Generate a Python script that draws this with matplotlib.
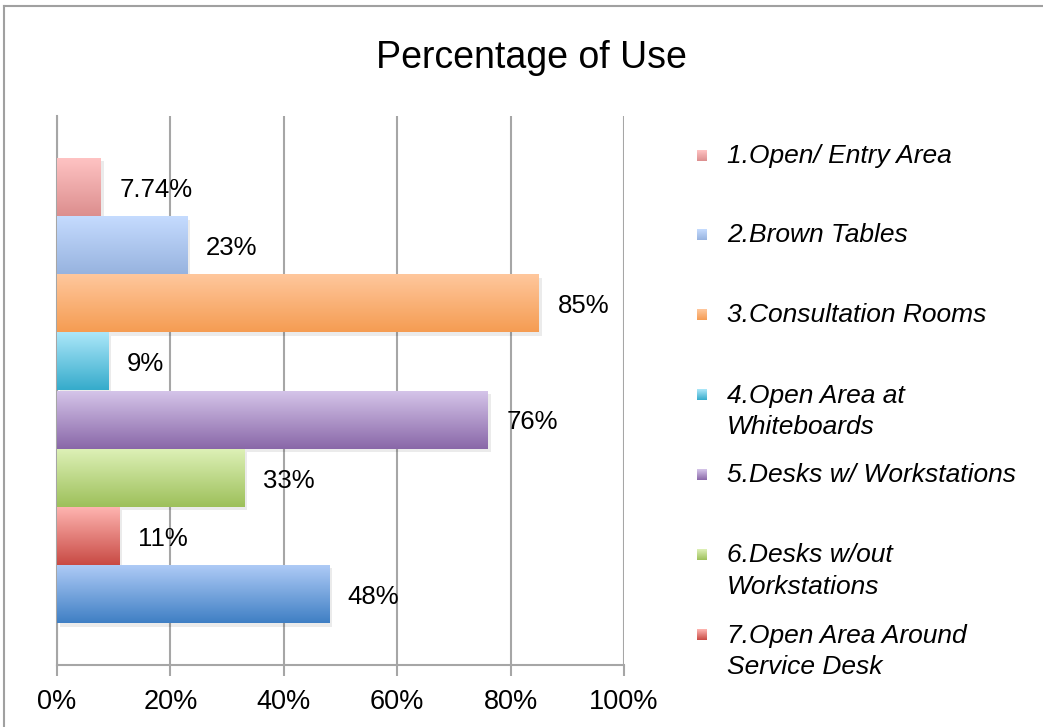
import matplotlib
matplotlib.use("Agg")
import matplotlib.pyplot as plt
import numpy as np
from matplotlib.colors import LinearSegmentedColormap
from matplotlib.patches import Rectangle
from matplotlib.lines import Line2D

plt.rcParams['font.family'] = ['Liberation Sans', 'DejaVu Sans']

title = "Percentage of Use"
values = [7.74, 23, 85, 9, 76, 33, 11, 48]
value_labels = ["7.74%", "23%", "85%", "9%", "76%", "33%", "11%", "48%"]
legend_labels = ["1.Open/ Entry Area", "2.Brown Tables", "3.Consultation Rooms",
                 "4.Open Area at\nWhiteboards", "5.Desks w/ Workstations",
                 "6.Desks w/out\nWorkstations", "7.Open Area Around\nService Desk"]
tick_values = [0, 20, 40, 60, 80, 100]
tick_labels = ["0%", "20%", "40%", "60%", "80%", "100%"]
# (top colour, bottom colour) gradients
grad_top = ["#FFC4C4", "#C6DCFF", "#FFC89E", "#AEE8FA", "#D6C6EA", "#DEF1B8", "#FFB6B2", "#B0CCF7"]
grad_bot = ["#DC8E8E", "#97B3DF", "#F59C52", "#35ABCB", "#8967A8", "#9DC05A", "#C84A44", "#3F7FC4"]

W, H = 1043, 727
fig = plt.figure(figsize=(W / 100, H / 100), dpi=100)
fig.patch.set_facecolor("white")

# outer chart border (top and left visible)
fig.add_artist(Line2D([4 / W, 4 / W], [0, 1 - 6 / H], transform=fig.transFigure, color="#A0A0A0", lw=1.5))
fig.add_artist(Line2D([4 / W, 1.0], [1 - 6 / H, 1 - 6 / H], transform=fig.transFigure, color="#A0A0A0", lw=1.5))

left, right = 57 / W, 624 / W
bottom, top = (H - 665) / H, (H - 116) / H
ax = fig.add_axes([left, bottom, right - left, top - bottom])

n = len(values)
ypos = np.arange(n)
pad = 0.72
ax.set_ylim(n - 1 + 0.5 + pad, -0.5 - pad)
ax.set_xlim(0, 100)

bars = ax.barh(ypos, values, height=1.0, color="none", edgecolor="none", zorder=3)

grad = np.linspace(0, 1, 256).reshape(-1, 1)
for i, b in enumerate(bars):
    x0, y0 = b.get_x(), b.get_y()
    w, h = b.get_width(), b.get_height()
    ax.add_patch(Rectangle((x0 + 0.5, y0 + 0.06), w, h, facecolor="#000000", alpha=0.08,
                           edgecolor="none", zorder=2))
    cmap = LinearSegmentedColormap.from_list(f"g{i}", [grad_top[i], grad_bot[i]])
    im = ax.imshow(grad, cmap=cmap, aspect="auto", extent=(x0, x0 + w, y0 + h, y0),
                   zorder=3, interpolation="bicubic")
    im.set_clip_path(b)
    ax.text(x0 + w + 3.3, y0 + h / 2 + 0.05, value_labels[i], va="center", ha="left",
            fontsize=18.5, color="black", zorder=4)
ax.set_ylim(n - 1 + 0.5 + pad, -0.5 - pad)
ax.set_xlim(0, 100)

ax.set_xticks(tick_values)
ax.set_xticklabels(tick_labels, fontsize=19.5)
ax.set_yticks([])
ax.xaxis.grid(True, color="#A6A6A6", lw=1.5, zorder=0)
ax.set_axisbelow(True)
for s in ["top", "right"]:
    ax.spines[s].set_visible(False)
for s in ["left", "bottom"]:
    ax.spines[s].set_color("#A6A6A6")
    ax.spines[s].set_linewidth(1.5)
ax.tick_params(axis="x", length=8, width=1.5, color="#A6A6A6", pad=9)
ax.set_facecolor("white")

fig.text(531 / W, 1 - 58 / H, title, ha="center", va="center", fontsize=27)

# legend
leg_y = [155, 234, 314, 394, 474, 554, 634]
for i, lab in enumerate(legend_labels):
    yc = leg_y[i]
    sax = fig.add_axes([697 / W, 1 - (yc + 6) / H, 10 / W, 11 / H])
    cmap = LinearSegmentedColormap.from_list(f"l{i}", [grad_top[i], grad_bot[i]])
    sax.imshow(grad, cmap=cmap, aspect="auto", extent=(0, 1, 1, 0))
    sax.axis("off")
    fig.text(727 / W, 1 - (yc - 10.5) / H, lab, ha="left", va="top", fontsize=19,
             style="italic", linespacing=1.4)

fig.savefig("out.png", dpi=100)
